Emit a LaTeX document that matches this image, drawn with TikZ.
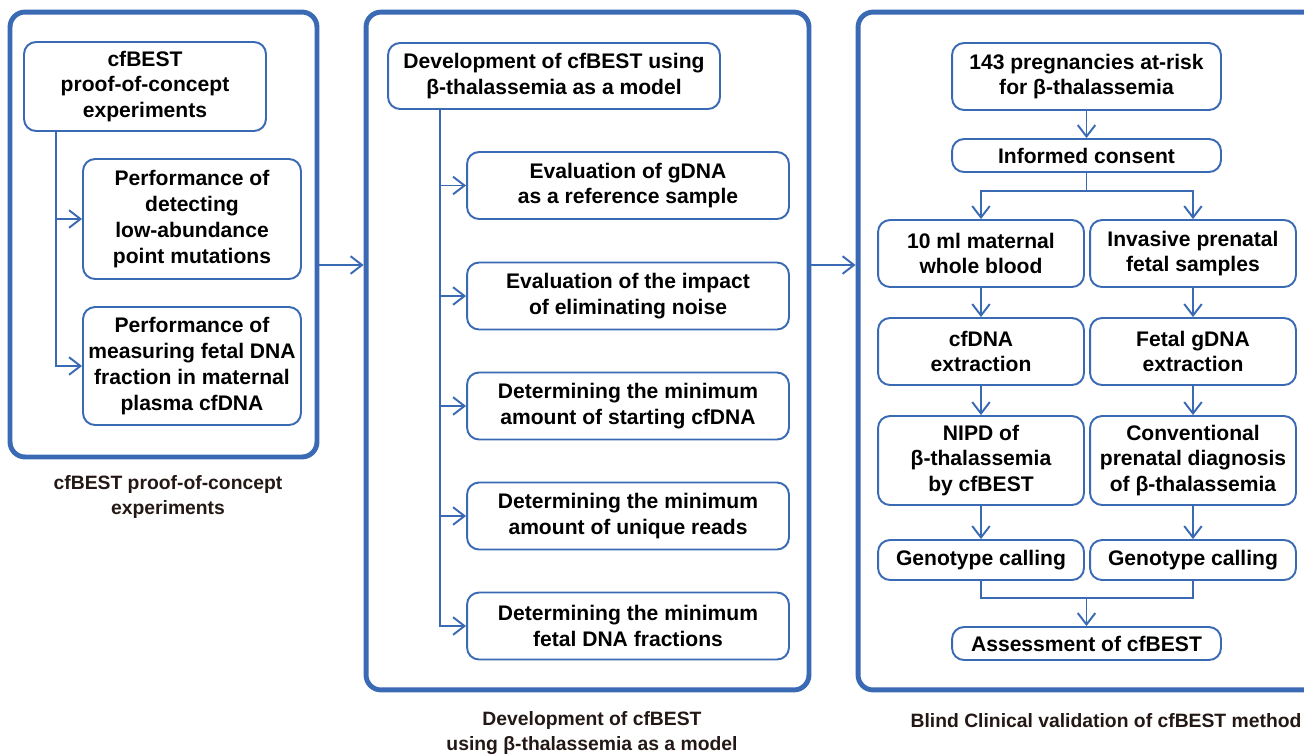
\documentclass[tikz,border=0pt]{standalone}
\usepackage{fontspec}
\setmainfont{Liberation Sans}
\usetikzlibrary{arrows.meta,positioning}
\definecolor{cfblue}{RGB}{59,106,181}
\definecolor{captxt}{RGB}{35,24,21}

\begin{document}
\begin{tikzpicture}[x=0.02cm,y=-0.02cm,>={Straight Barb[length=6.5pt,width=10pt]},
  box/.style={draw=cfblue,line width=1.1pt,rounded corners=0.24cm,align=center,inner sep=0pt,
    font=\bfseries\fontsize{12}{14.7}\selectfont},
  panel/.style={draw=cfblue,line width=2.8pt,rounded corners=0.3cm},
  link/.style={draw=cfblue,line width=1.1pt},
  caption/.style={align=center,text=captxt,font=\bfseries\fontsize{11}{14.3}\selectfont}]
\clip (0,0) rectangle (1304,755);
% panels
\node[panel,minimum width=6.14cm,minimum height=8.90cm] (pa) at (163.5,234.5) {};
\node[panel,minimum width=8.86cm,minimum height=13.56cm] (pb) at (587.5,351) {};
\node[panel,minimum width=9.24cm,minimum height=13.56cm] (pc) at (1089,351) {};
\node[caption] (capa) at (168,497) {cfBEST proof-of-concept\\experiments};
\node[caption] (capb) at (592,733) {Development of cfBEST\\using β-thalassemia as a model};
\node[caption] (capc) at (1106,721) {Blind Clinical validation of cfBEST method};
\coordinate (mid) at (0,265);
\draw[link,->] (pa.east |- mid) -- (pb.west |- mid);
\draw[link,->] (pb.east |- mid) -- (pc.west |- mid);

% proof of concept
\node[box,minimum width=4.84cm,minimum height=1.78cm] (p0) at (145,86.5) {cfBEST\\proof-of-concept\\experiments};
\node[box,minimum width=4.36cm,minimum height=2.40cm] (p1) at (192,219) {Performance of\\detecting\\low-abundance\\point mutations};
\node[box,minimum width=4.36cm,minimum height=2.36cm] (p2) at (192,366) {Performance of\\measuring fetal DNA\\fraction in maternal\\plasma cfDNA};
\coordinate (s1) at (56,0);
\draw[link,->] (p0.south -| s1) |- (p2.west);
\draw[link,->] (p1.west -| s1) -- (p1.west);

% development
\node[box,minimum width=6.64cm,minimum height=1.32cm] (d0) at (554,76) {Development of cfBEST using\\β-thalassemia as a model};
\node[box,minimum width=6.44cm,minimum height=1.34cm] (d1) at (628,185.5) {Evaluation of gDNA\\as a reference sample};
\node[box,minimum width=6.44cm,minimum height=1.34cm] (d2) at (628,296) {Evaluation of the impact\\of eliminating noise};
\node[box,minimum width=6.44cm,minimum height=1.34cm] (d3) at (628,406) {Determining the minimum\\amount of starting cfDNA};
\node[box,minimum width=6.44cm,minimum height=1.34cm] (d4) at (628,516) {Determining the minimum\\amount of unique reads};
\node[box,minimum width=6.44cm,minimum height=1.34cm] (d5) at (628,626) {Determining the minimum\\fetal DNA fractions};
\coordinate (s2) at (440,0);
\draw[link,->] (d0.south -| s2) |- (d5.west);
\foreach \d in {d1,d2,d3,d4}
  \draw[link,->] (\d.west -| s2) -- (\d.west);

% clinical validation
\node[box,minimum width=5.38cm,minimum height=1.34cm] (c0) at (1086.5,76.5) {143 pregnancies at-risk\\for β-thalassemia};
\node[box,minimum width=5.38cm,minimum height=0.66cm] (c1) at (1086.5,155.5) {Informed consent};
\node[box,minimum width=4.12cm,minimum height=1.34cm] (c2a) at (981,253.5) {10 ml maternal\\whole blood};
\node[box,minimum width=4.12cm,minimum height=1.34cm] (c2b) at (1193,253.5) {Invasive prenatal\\fetal samples};
\node[box,minimum width=4.12cm,minimum height=1.34cm] (c3a) at (981,351.5) {cfDNA\\extraction};
\node[box,minimum width=4.12cm,minimum height=1.34cm] (c3b) at (1193,351.5) {Fetal gDNA\\extraction};
\node[box,minimum width=4.12cm,minimum height=1.78cm] (c4a) at (981,460.5) {NIPD of\\β-thalassemia\\by cfBEST};
\node[box,minimum width=4.12cm,minimum height=1.78cm] (c4b) at (1193,460.5) {Conventional\\prenatal diagnosis\\of β-thalassemia};
\node[box,minimum width=4.12cm,minimum height=0.80cm] (c5a) at (981,560) {Genotype calling};
\node[box,minimum width=4.12cm,minimum height=0.80cm] (c5b) at (1193,560) {Genotype calling};
\node[box,minimum width=5.38cm,minimum height=0.66cm] (c6) at (1086.5,643.5) {Assessment of cfBEST};
\draw[link,->] (c0) -- (c1);
\coordinate (sp) at (1086.5,191);
\draw[link,->] (c1.south) -- (sp) -| (c2a.north);
\draw[link,->] (sp) -| (c2b.north);
\draw[link,->] (c2a) -- (c3a);
\draw[link,->] (c3a) -- (c4a);
\draw[link,->] (c4a) -- (c5a);
\draw[link,->] (c2b) -- (c3b);
\draw[link,->] (c3b) -- (c4b);
\draw[link,->] (c4b) -- (c5b);
\coordinate (mg) at (1086.5,598);
\draw[link] (c5a.south) |- (mg) -| (c5b.south);
\draw[link,->] (mg) -- (c6.north);
\end{tikzpicture}
\end{document}
